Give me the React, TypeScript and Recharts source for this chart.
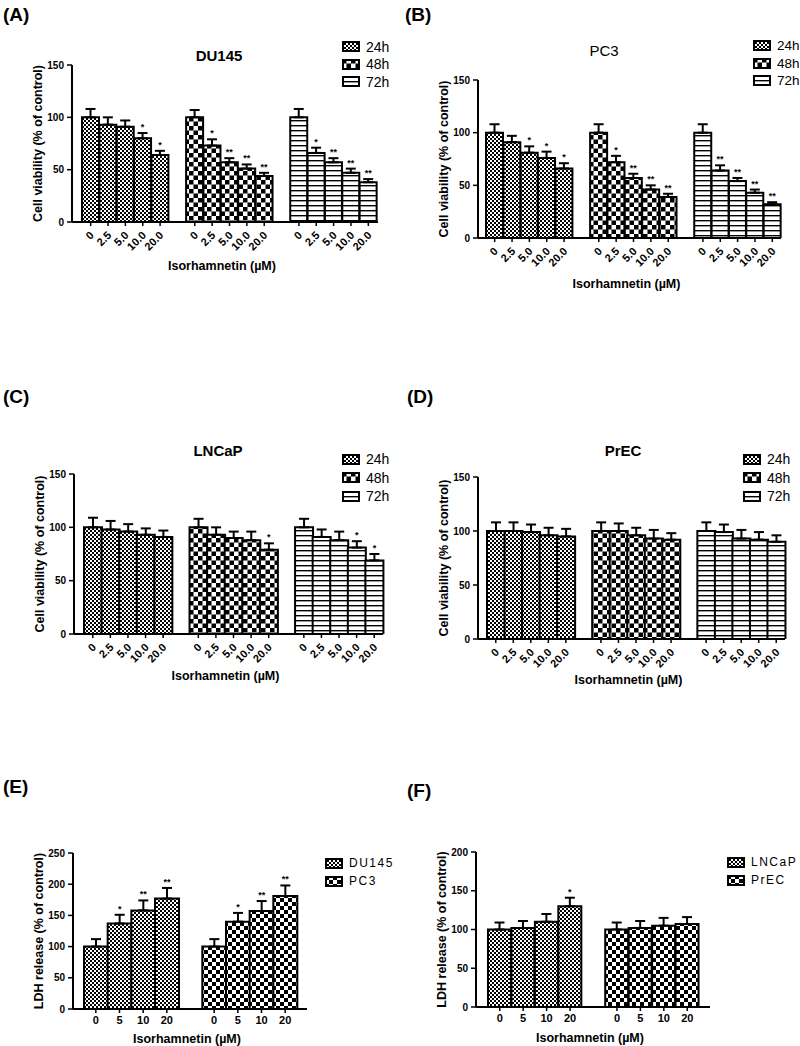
import React from 'react';
import { BarChart, Bar, XAxis, YAxis, ErrorBar, Cell, Legend, Label, LabelList } from 'recharts';

const FONT = '"Liberation Sans", Arial, Helvetica, sans-serif';

// ---------- categories / tick labels ----------
const viabilityDoses = ['0', '2.5', '5.0', '10.0', '20.0'];
const ldhDoses = ['0', '5', '10', '20'];
const viabilityTicks = [0, 50, 100, 150];
const ldhTicksE = [0, 50, 100, 150, 200, 250];
const ldhTicksF = [0, 50, 100, 150, 200];

// ---------- (A) DU145 viability ----------
const du145_24h = [100, 93, 91, 80, 64];
const du145_24h_sd = [8, 7, 6, 5, 4];
const du145_24h_sig = ['', '', '', '*', '*'];
const du145_48h = [100, 73, 57, 51, 44];
const du145_48h_sd = [7, 6, 4, 4, 3];
const du145_48h_sig = ['', '*', '**', '**', '**'];
const du145_72h = [100, 66, 57, 47, 38];
const du145_72h_sd = [8, 5, 4, 4, 3];
const du145_72h_sig = ['', '*', '**', '**', '**'];

// ---------- (B) PC3 viability ----------
const pc3_24h = [100, 91, 81, 76, 66];
const pc3_24h_sd = [8, 6, 6, 6, 5];
const pc3_24h_sig = ['', '', '*', '*', '*'];
const pc3_48h = [100, 72, 57, 46, 39];
const pc3_48h_sd = [8, 6, 4, 4, 3];
const pc3_48h_sig = ['', '*', '**', '**', '**'];
const pc3_72h = [100, 64, 54, 43, 32];
const pc3_72h_sd = [8, 5, 3, 3, 2];
const pc3_72h_sig = ['', '**', '**', '**', '**'];

// ---------- (C) LNCaP viability ----------
const lncap_24h = [100, 98, 96, 93, 91];
const lncap_24h_sd = [9, 8, 7, 6, 6];
const lncap_24h_sig = ['', '', '', '', ''];
const lncap_48h = [100, 93, 90, 88, 79];
const lncap_48h_sd = [8, 7, 6, 8, 6];
const lncap_48h_sig = ['', '', '', '', '*'];
const lncap_72h = [100, 91, 88, 81, 69];
const lncap_72h_sd = [8, 7, 8, 6, 6];
const lncap_72h_sig = ['', '', '', '*', '*'];

// ---------- (D) PrEC viability ----------
const prec_24h = [100, 100, 99, 96, 95];
const prec_24h_sd = [8, 8, 7, 7, 7];
const prec_48h = [100, 100, 96, 93, 92];
const prec_48h_sd = [8, 7, 7, 8, 6];
const prec_72h = [100, 99, 93, 92, 90];
const prec_72h_sd = [8, 7, 8, 7, 6];
const noSig5 = ['', '', '', '', ''];

// ---------- (E) LDH release DU145 / PC3 ----------
const ldh_du145 = [100, 137, 158, 177];
const ldh_du145_sd = [12, 14, 16, 17];
const ldh_du145_sig = ['', '*', '**', '**'];
const ldh_pc3 = [100, 140, 157, 181];
const ldh_pc3_sd = [12, 14, 16, 17];
const ldh_pc3_sig = ['', '*', '**', '**'];

// ---------- (F) LDH release LNCaP / PrEC ----------
const ldh_lncap = [100, 102, 110, 130];
const ldh_lncap_sd = [9, 9, 10, 11];
const ldh_lncap_sig = ['', '', '', '*'];
const ldh_prec = [100, 102, 105, 107];
const ldh_prec_sd = [9, 9, 10, 9];
const ldh_prec_sig = ['', '', '', ''];

type Series = { name: string; values: number[]; sd: number[]; sig: string[]; pattern: string };
type Row = { key: string; label: string; value: number | null; err: [number, number] | null; sig: string; sd: number; pattern: string };

function buildRows(series: Series[], doses: string[]): Row[] {
  const rows: Row[] = [];
  series.forEach((s, g) => {
    doses.forEach((d, i) => {
      rows.push({ key: `${s.name}-${d}`, label: d, value: s.values[i], err: [0, s.sd[i]], sig: s.sig[i], sd: s.sd[i], pattern: s.pattern });
    });
    if (g < series.length - 1) rows.push({ key: `gap-${g}`, label: '', value: null, err: null, sig: '', sd: 0, pattern: '' });
  });
  return rows;
}

const seriesA: Series[] = [
  { name: '24h', values: du145_24h, sd: du145_24h_sd, sig: du145_24h_sig, pattern: 'pFine' },
  { name: '48h', values: du145_48h, sd: du145_48h_sd, sig: du145_48h_sig, pattern: 'pCoarse' },
  { name: '72h', values: du145_72h, sd: du145_72h_sd, sig: du145_72h_sig, pattern: 'pStripe' },
];
const seriesB: Series[] = [
  { name: '24h', values: pc3_24h, sd: pc3_24h_sd, sig: pc3_24h_sig, pattern: 'pFine' },
  { name: '48h', values: pc3_48h, sd: pc3_48h_sd, sig: pc3_48h_sig, pattern: 'pCoarse' },
  { name: '72h', values: pc3_72h, sd: pc3_72h_sd, sig: pc3_72h_sig, pattern: 'pStripe' },
];
const seriesC: Series[] = [
  { name: '24h', values: lncap_24h, sd: lncap_24h_sd, sig: lncap_24h_sig, pattern: 'pFine' },
  { name: '48h', values: lncap_48h, sd: lncap_48h_sd, sig: lncap_48h_sig, pattern: 'pCoarse' },
  { name: '72h', values: lncap_72h, sd: lncap_72h_sd, sig: lncap_72h_sig, pattern: 'pStripe' },
];
const seriesD: Series[] = [
  { name: '24h', values: prec_24h, sd: prec_24h_sd, sig: noSig5, pattern: 'pFine' },
  { name: '48h', values: prec_48h, sd: prec_48h_sd, sig: noSig5, pattern: 'pCoarse' },
  { name: '72h', values: prec_72h, sd: prec_72h_sd, sig: noSig5, pattern: 'pStripe' },
];
const seriesE: Series[] = [
  { name: 'DU145', values: ldh_du145, sd: ldh_du145_sd, sig: ldh_du145_sig, pattern: 'pFine' },
  { name: 'PC3', values: ldh_pc3, sd: ldh_pc3_sd, sig: ldh_pc3_sig, pattern: 'pCoarse2' },
];
const seriesF: Series[] = [
  { name: 'LNCaP', values: ldh_lncap, sd: ldh_lncap_sd, sig: ldh_lncap_sig, pattern: 'pFine' },
  { name: 'PrEC', values: ldh_prec, sd: ldh_prec_sd, sig: ldh_prec_sig, pattern: 'pCoarse2' },
];

type PanelCfg = {
  letter: string; letterPos: [number, number];
  title?: string; titleBold?: boolean; titlePos?: [number, number];
  cx: number; cy: number; cw: number; ch: number;
  plot: [number, number, number, number];
  xh: number; padL: number; padR: number;
  domain: [number, number]; ticks: number[];
  series: Series[]; doses: string[];
  yLabel: string; xLabelY: number; rotate: boolean;
  legendPos: [number, number]; legendRow: number; legendFont: number; legendSpacing: number;
};

const panels: PanelCfg[] = [
  {
    letter: '(A)', letterPos: [3, 14], title: 'DU145', titleBold: true, titlePos: [219, 55],
    cx: 0, cy: 0, cw: 400, ch: 300, plot: [72, 65, 378, 222], xh: 60, padL: 10, padR: 1,
    domain: [0, 150], ticks: viabilityTicks, series: seriesA, doses: viabilityDoses,
    yLabel: 'Cell viability (% of control)', xLabelY: 266, rotate: true,
    legendPos: [342, 38], legendRow: 17.5, legendFont: 14, legendSpacing: 0,
  },
  {
    letter: '(B)', letterPos: [405, 14], title: 'PC3', titleBold: false, titlePos: [604, 50],
    cx: 400, cy: 0, cw: 400, ch: 300, plot: [478, 80, 781, 238], xh: 60, padL: 8, padR: 0,
    domain: [0, 150], ticks: viabilityTicks, series: seriesB, doses: viabilityDoses,
    yLabel: 'Cell viability (% of control)', xLabelY: 284, rotate: true,
    legendPos: [753, 37], legendRow: 17.5, legendFont: 13.5, legendSpacing: 0,
  },
  {
    letter: '(C)', letterPos: [3, 396], title: 'LNCaP', titleBold: true, titlePos: [218, 450],
    cx: 0, cy: 340, cw: 400, ch: 360, plot: [74, 474, 383, 634], xh: 60, padL: 10, padR: 0,
    domain: [0, 150], ticks: viabilityTicks, series: seriesC, doses: viabilityDoses,
    yLabel: 'Cell viability (% of control)', xLabelY: 676, rotate: true,
    legendPos: [342, 450], legendRow: 18.5, legendFont: 14, legendSpacing: 0,
  },
  {
    letter: '(D)', letterPos: [407, 396], title: 'PrEC', titleBold: true, titlePos: [623, 450],
    cx: 400, cy: 340, cw: 400, ch: 360, plot: [478, 477, 785, 639], xh: 60, padL: 9, padR: 0,
    domain: [0, 150], ticks: viabilityTicks, series: seriesD, doses: viabilityDoses,
    yLabel: 'Cell viability (% of control)', xLabelY: 680, rotate: true,
    legendPos: [743, 450], legendRow: 18.5, legendFont: 14, legendSpacing: 0,
  },
  {
    letter: '(E)', letterPos: [3, 786],
    cx: 0, cy: 690, cw: 400, ch: 356, plot: [73, 853, 307, 1009], xh: 37, padL: 11, padR: 10,
    domain: [0, 250], ticks: ldhTicksE, series: seriesE, doses: ldhDoses,
    yLabel: 'LDH release (% of control)', xLabelY: 1039, rotate: false,
    legendPos: [325, 854], legendRow: 18, legendFont: 12, legendSpacing: 1.5,
  },
  {
    letter: '(F)', letterPos: [407, 790],
    cx: 400, cy: 690, cw: 400, ch: 356, plot: [476, 852, 710, 1007], xh: 39, padL: 12, padR: 11,
    domain: [0, 200], ticks: ldhTicksF, series: seriesF, doses: ldhDoses,
    yLabel: 'LDH release (% of control)', xLabelY: 1038, rotate: false,
    legendPos: [727, 853], legendRow: 18, legendFont: 12, legendSpacing: 1.5,
  },
];

const YW = 60;

function Panel({ cfg }: { cfg: PanelCfg }) {
  const { cx, cy, cw, ch, plot, xh, padL, padR, domain, ticks, series, doses } = cfg;
  const [pl, pt, pr, pb] = plot;
  const rows = buildRows(series, doses);
  const barRows = rows.filter((r) => r.value != null);
  const margin = { left: pl - cx - YW, top: pt - cy, right: cx + cw - pr, bottom: cy + ch - pb - xh };
  const axisY = pb - cy;

  const renderTick = (props: any) => {
    const { x, payload } = props;
    const row = rows.find((r) => r.key === payload.value);
    if (!row || row.value == null) return <g />;
    return (
      <g>
        <line x1={x} x2={x} y1={axisY} y2={axisY + 4} stroke="#000" strokeWidth={1.5} />
        {cfg.rotate ? (
          <text
            x={x + 4}
            y={axisY + 14}
            textAnchor="end"
            transform={`rotate(-45 ${x + 4} ${axisY + 14})`}
            fontFamily={FONT}
            fontSize={11}
            fontWeight={700}
            fill="#000"
          >
            {row.label}
          </text>
        ) : (
          <text x={x} y={axisY + 11} textAnchor="middle" dominantBaseline="central" fontFamily={FONT} fontSize={11} fontWeight={700} fill="#000">
            {row.label}
          </text>
        )}
      </g>
    );
  };

  const renderSig = (props: any) => {
    const vb = props.viewBox || props;
    const cxBar = vb.x + vb.width / 2;
    // find the bar row whose value matches this label (labels are emitted for drawn bars only)
    const row = barRows[props.index];
    if (!row || !row.sig || row.value == null || !vb.height) return null;
    const pxPerUnit = vb.height / row.value;
    const capY = vb.y - row.sd * pxPerUnit;
    return (
      <text x={cxBar} y={capY - 3} textAnchor="middle" fontFamily={FONT} fontSize={9} fontWeight={700} fill="#000">
        {row.sig}
      </text>
    );
  };

  const legendContent = () => (
    <div style={{ fontFamily: FONT, color: '#000' }}>
      {series.map((s) => (
        <div key={s.name} style={{ display: 'flex', alignItems: 'center', height: cfg.legendRow }}>
          <svg width={18} height={11} style={{ display: 'block' }}>
            <rect x={1} y={1} width={16} height={9} fill={`url(#${s.pattern})`} stroke="#000" strokeWidth={2} />
          </svg>
          <span style={{ marginLeft: 6, fontSize: cfg.legendFont, letterSpacing: cfg.legendSpacing, lineHeight: 1, whiteSpace: 'nowrap' }}>{s.name}</span>
        </div>
      ))}
    </div>
  );

  return (
    <div style={{ position: 'absolute', left: cx, top: cy, width: cw, height: ch }}>
      <BarChart width={cw} height={ch} data={rows} margin={margin} barCategoryGap={0} barGap={0}>
        <XAxis
          dataKey="key"
          type="category"
          height={xh}
          interval={0}
          padding={{ left: padL, right: padR }}
          axisLine={{ stroke: '#000', strokeWidth: 2 }}
          tickLine={false}
          tick={renderTick}
        >
          <Label
            content={() => (
              <text x={(pl + pr) / 2 - cx - 3} y={cfg.xLabelY - cy} textAnchor="middle" dominantBaseline="central" fontFamily={FONT} fontSize={12.5} fontWeight={700} fill="#000">
                Isorhamnetin (µM)
              </text>
            )}
          />
        </XAxis>
        <YAxis
          type="number"
          width={YW}
          domain={domain}
          ticks={ticks}
          allowDataOverflow
          interval={0}
          axisLine={{ stroke: '#000', strokeWidth: 2 }}
          tickLine={{ stroke: '#000', strokeWidth: 1.5 }}
          tickSize={5}
          tickMargin={3}
          tick={{ fill: '#000', fontSize: 10, fontWeight: 700, fontFamily: FONT }}
        >
          <Label
            content={() => {
              const lx = pl - 34 - cx;
              const ly = (pt + pb) / 2 - cy;
              return (
                <text x={lx} y={ly} transform={`rotate(-90 ${lx} ${ly})`} textAnchor="middle" dominantBaseline="central" fontFamily={FONT} fontSize={12.5} fontWeight={700} fill="#000">
                  {cfg.yLabel}
                </text>
              );
            }}
          />
        </YAxis>
        <Bar dataKey="value" isAnimationActive={false} stroke="#000" strokeWidth={2}>
          {rows.map((r) => (
            <Cell key={r.key} fill={r.pattern ? `url(#${r.pattern})` : 'none'} stroke={r.pattern ? '#000' : 'none'} />
          ))}
          <ErrorBar dataKey="err" width={5} stroke="#000" strokeWidth={2} direction="y" />
          <LabelList dataKey="sig" content={renderSig} />
        </Bar>
        <Legend
          layout="vertical"
          align="center"
          verticalAlign="middle"
          wrapperStyle={{ left: cfg.legendPos[0] - cx, top: cfg.legendPos[1] - cy, width: 'auto', height: 'auto' }}
          content={legendContent}
        />
      </BarChart>
    </div>
  );
}

export default function App() {
  return (
    <div style={{ position: 'absolute', left: 0, top: 0, width: 800, height: 1046, background: '#fff', overflow: 'hidden', fontFamily: FONT }}>
      <svg width={0} height={0} style={{ position: 'absolute' }}>
        <defs>
          <pattern id="pFine" patternUnits="userSpaceOnUse" width={4} height={4}>
            <rect x={0} y={0} width={4} height={4} fill="#fff" />
            <rect x={0} y={0} width={2} height={2} fill="#000" />
            <rect x={2} y={2} width={2} height={2} fill="#000" />
          </pattern>
          <pattern id="pCoarse" patternUnits="userSpaceOnUse" width={9} height={9}>
            <rect x={0} y={0} width={9} height={9} fill="#fff" />
            <rect x={0} y={0} width={4.5} height={4.5} fill="#000" />
            <rect x={4.5} y={4.5} width={4.5} height={4.5} fill="#000" />
          </pattern>
          <pattern id="pCoarse2" patternUnits="userSpaceOnUse" width={8} height={8}>
            <rect x={0} y={0} width={8} height={8} fill="#fff" />
            <rect x={0} y={0} width={4} height={4} fill="#000" />
            <rect x={4} y={4} width={4} height={4} fill="#000" />
          </pattern>
          <pattern id="pStripe" patternUnits="userSpaceOnUse" width={5} height={5}>
            <rect x={0} y={0} width={5} height={5} fill="#fff" />
            <rect x={0} y={0} width={5} height={1.4} fill="#000" />
          </pattern>
        </defs>
      </svg>
      {panels.map((p) => (
        <React.Fragment key={p.letter}>
          <div style={{ position: 'absolute', left: p.letterPos[0], top: p.letterPos[1], transform: 'translateY(-50%)', fontSize: 19, fontWeight: 700, lineHeight: 1, color: '#000' }}>
            {p.letter}
          </div>
          {p.title && p.titlePos && (
            <div style={{ position: 'absolute', left: p.titlePos[0], top: p.titlePos[1], transform: 'translate(-50%, -50%)', fontSize: 15, fontWeight: p.titleBold ? 700 : 400, lineHeight: 1, color: '#000', whiteSpace: 'nowrap' }}>
              {p.title}
            </div>
          )}
          <Panel cfg={p} />
        </React.Fragment>
      ))}
    </div>
  );
}
